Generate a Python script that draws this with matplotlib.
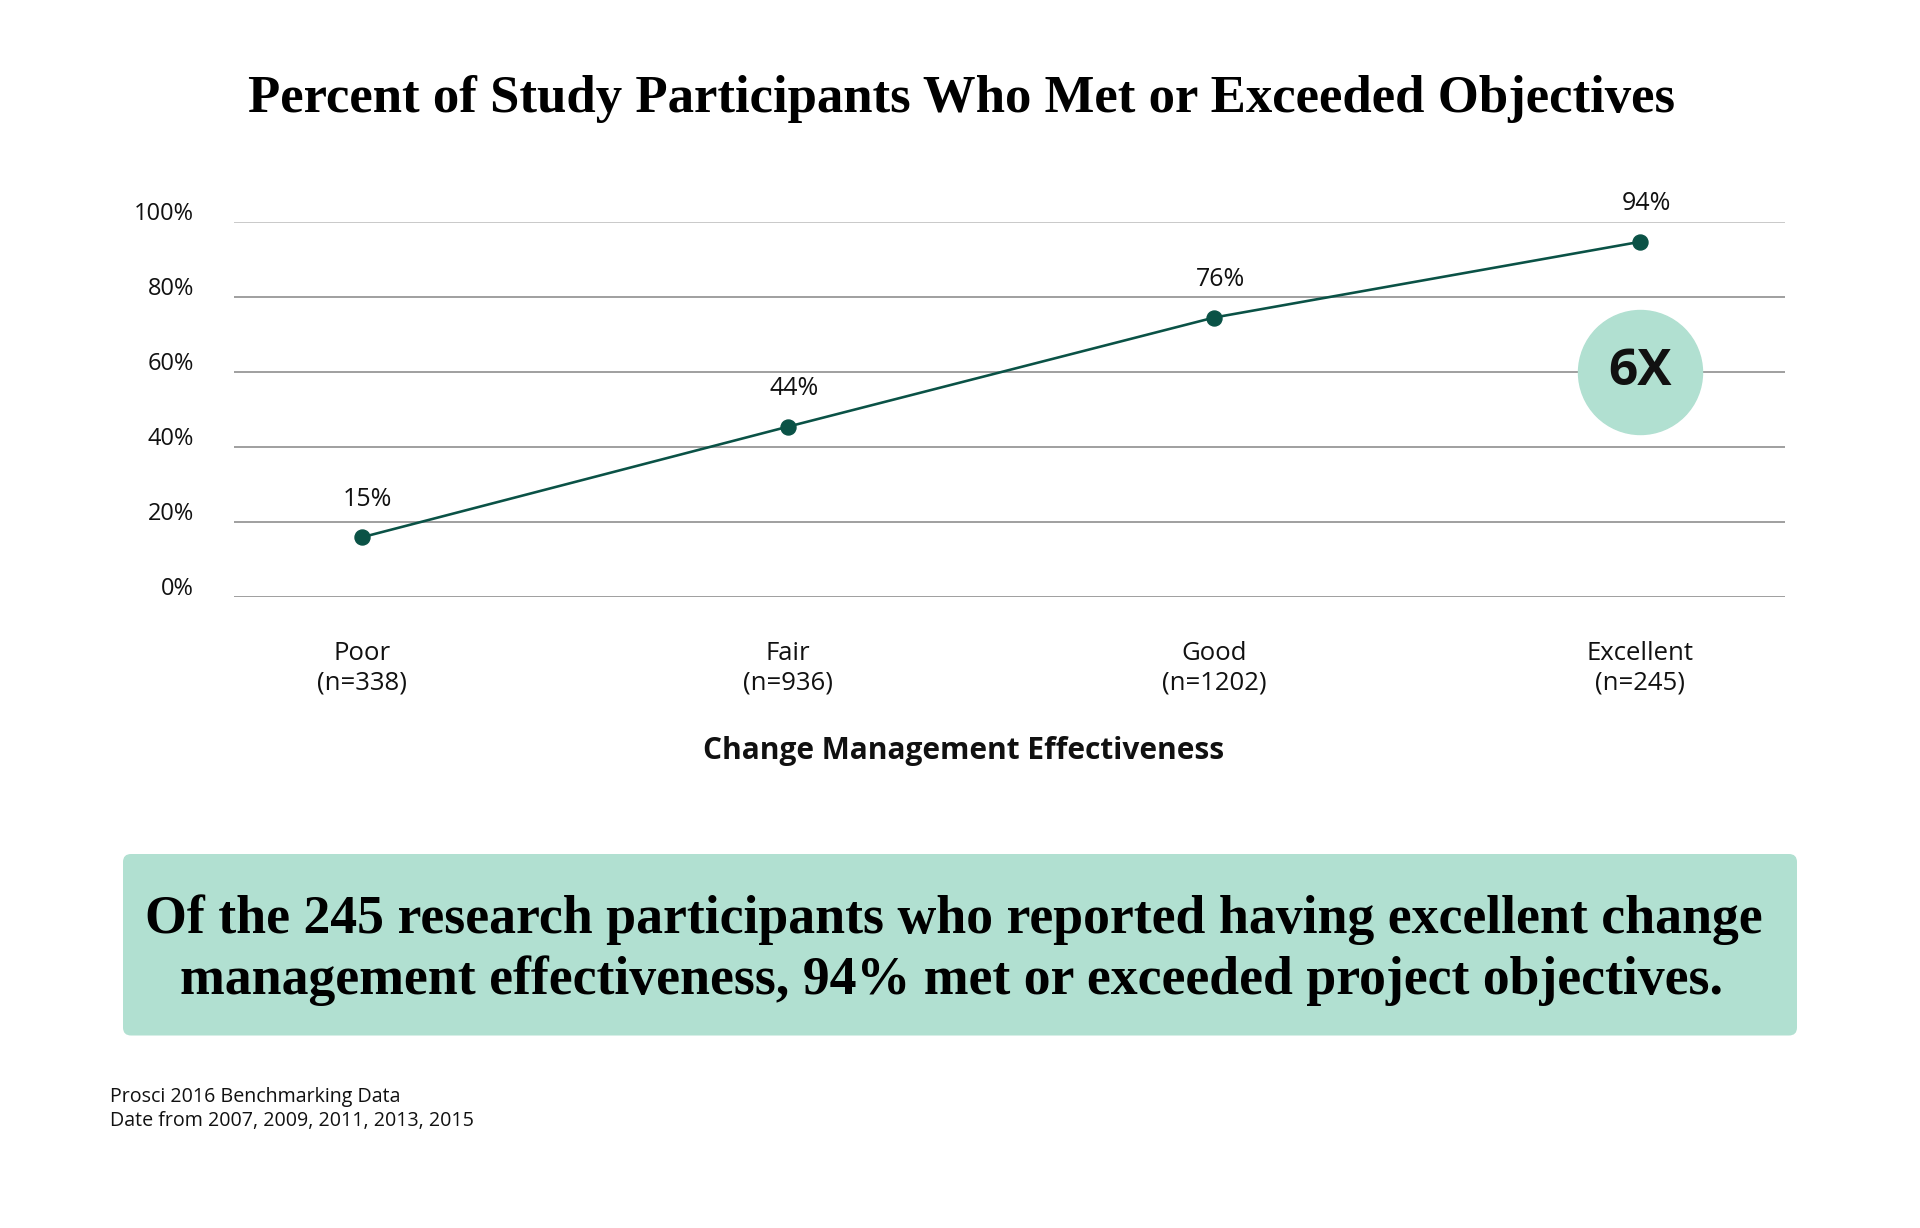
import matplotlib.pyplot as plt
from matplotlib.patches import FancyBboxPatch

# data
categories = ["Poor", "Fair", "Good", "Excellent"]
sample_sizes = [338, 936, 1202, 245]
pct_plotted = [16.0, 45.5, 74.6, 94.8]   # where the dots sit
pct_labels = [15, 44, 76, 94]            # what the labels say
y_ticks = [0, 20, 40, 60, 80, 100]
multiplier = "6X"

title = "Percent of Study Participants Who Met or Exceeded Objectives"
x_title = "Change Management Effectiveness"
callout = ["Of the 245 research participants who reported having excellent change",
           "management effectiveness, 94% met or exceeded project objectives."]
notes = ["Prosci 2016 Benchmarking Data", "Date from 2007, 2009, 2011, 2013, 2015"]

SANS = "Open Sans"
SERIF = "Liberation Serif"
TEAL = "#0A5246"
MINT = "#B1E0D1"
PX = 0.72  # points per pixel at dpi 100

fig = plt.figure(figsize=(19.2, 12.28), dpi=100)
fig.patch.set_facecolor("white")

# background axes in pixel units for title, callout box and notes
bg = fig.add_axes([0, 0, 1, 1], zorder=0)
bg.set_xlim(0, 1920)
bg.set_ylim(1228, 0)
bg.axis("off")

ax = fig.add_axes([234 / 1920, 1 - 597.3 / 1228, (1785 - 234) / 1920, 375 / 1228], zorder=1)
ax.patch.set_alpha(0)
x = list(range(len(categories)))
ax.set_xlim(-0.30, 3.34)
ax.set_ylim(0, 100)
for s in ax.spines.values():
    s.set_visible(False)
ax.set_xticks([])
ax.set_yticks([])

for t in y_ticks:
    ax.axhline(t, color="#BDBDBD" if t == 100 else "#8A8A8A", lw=1.6 * PX, zorder=1)
    ax.annotate(f"{t}%", xy=(0, t), xycoords=("axes fraction", "data"),
                xytext=(-40 * PX, 8 * PX), textcoords="offset points",
                ha="right", va="center", fontsize=17, family=SANS, color="#111111")

ax.plot(x, pct_plotted, color=TEAL, lw=2.6 * PX, marker="o", ms=15 * PX,
        zorder=4, clip_on=False)
for xi, yi, lab in zip(x, pct_plotted, pct_labels):
    ax.annotate(f"{lab}%", xy=(xi, yi), xytext=(6 * PX, 38 * PX),
                textcoords="offset points", ha="center", va="center",
                fontsize=18, family=SANS, color="#111111")

for xi, cat, n in zip(x, categories, sample_sizes):
    ax.annotate(f"{cat}\n(n={n})", xy=(xi, 0), xytext=(0, -71 * PX),
                textcoords="offset points", ha="center", va="center",
                fontsize=18.5, family=SANS, color="#111111", linespacing=1.2)

# 6X badge
ax.scatter([x[-1]], [60], s=(124 * PX) ** 2, color=MINT, zorder=3, clip_on=False)
ax.text(x[-1], 60, multiplier, ha="center", va="center", fontsize=37,
        fontweight="bold", family=SANS, color="#111111", zorder=5)

# title and axis title
bg.text(962, 112, title, ha="center", va="baseline", fontsize=38,
        fontweight="bold", family=SERIF, color="black")
bg.text(964, 751, x_title, ha="center", va="center", fontsize=21.5,
        fontweight="bold", family=SANS, color="#111111")

# callout box
bg.add_patch(FancyBboxPatch((123, 854), 1674, 181.5,
                            boxstyle="round,pad=0,rounding_size=8",
                            facecolor=MINT, edgecolor="none"))
bg.text(954, 933, callout[0], ha="center", va="baseline", fontsize=38.7,
        fontweight="bold", family=SERIF, color="black")
bg.text(952, 994, callout[1], ha="center", va="baseline", fontsize=38.7,
        fontweight="bold", family=SERIF, color="black")

# footnotes
bg.text(110, 1102, notes[0], ha="left", va="baseline", fontsize=14.1,
        family=SANS, color="#111111")
bg.text(110, 1126, notes[1], ha="left", va="baseline", fontsize=14.1,
        family=SANS, color="#111111")

fig.savefig("out.png", dpi=100)
